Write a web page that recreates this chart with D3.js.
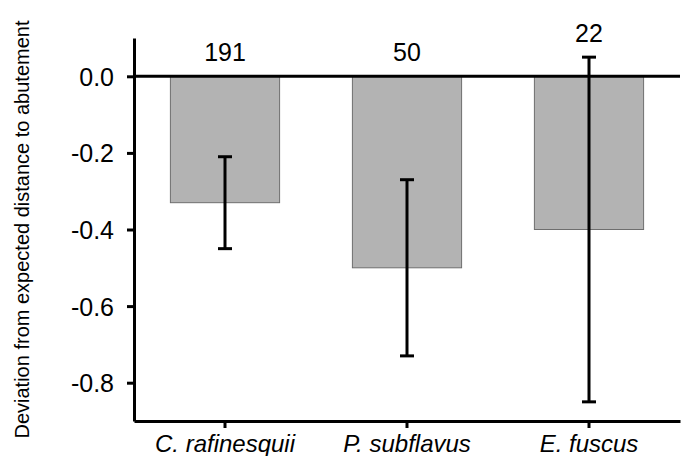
<!DOCTYPE html>
<html>
<head>
<meta charset="utf-8">
<script src="https://cdn.jsdelivr.net/npm/d3@7"></script>
<style>
  body { margin: 0; background: #fff; }
  svg { font-family: "Liberation Sans", Arial, sans-serif; }
</style>
</head>
<body>
<svg id="chart"></svg>
<script>
const species = ['C. rafinesquii', 'P. subflavus', 'E. fuscus'];
const means = [-0.33, -0.50, -0.40];
const errLow = [-0.45, -0.73, -0.85];
const errHigh = [-0.21, -0.27, 0.05];
const counts = ['191', '50', '22'];
const yTicks = [0.0, -0.2, -0.4, -0.6, -0.8];

const width = 682, height = 456;
const margin = { top: 38, left: 134, bottom: 35, right: 2 };
const iwidth = width - margin.left - margin.right;
const iheight = height - margin.top - margin.bottom;

const svg = d3.select('#chart').attr('width', width).attr('height', height);
const g = svg.append('g').attr('transform', `translate(${margin.left},${margin.top})`);

const y = d3.scaleLinear().domain([-0.9, 0.1]).range([iheight, 0]);
const x = d3.scaleBand().domain(species).range([0, iwidth])
  .paddingInner(0.4).paddingOuter(0.2);

// bars
g.selectAll('.bar')
  .data(species)
  .enter().append('rect')
  .attr('x', d => x(d))
  .attr('y', y(0))
  .attr('width', x.bandwidth())
  .attr('height', (d, i) => y(means[i]) - y(0))
  .style('fill', '#b3b3b3')
  .style('stroke', '#6e6e6e')
  .style('stroke-width', 1);

// error bars
const cap = 7;
species.forEach((s, i) => {
  const cx = x(s) + x.bandwidth() / 2;
  const eg = g.append('g').attr('stroke', '#000').attr('stroke-width', 3);
  eg.append('line').attr('x1', cx).attr('x2', cx).attr('y1', y(errLow[i])).attr('y2', y(errHigh[i]));
  eg.append('line').attr('x1', cx - cap).attr('x2', cx + cap).attr('y1', y(errLow[i])).attr('y2', y(errLow[i]));
  eg.append('line').attr('x1', cx - cap).attr('x2', cx + cap).attr('y1', y(errHigh[i])).attr('y2', y(errHigh[i]));
});

// zero line
g.append('line')
  .attr('x1', 0).attr('x2', iwidth)
  .attr('y1', y(0)).attr('y2', y(0))
  .attr('stroke', '#000').attr('stroke-width', 3);

// sample sizes, above the zero line or the error cap
g.selectAll('.count')
  .data(species)
  .enter().append('text')
  .attr('x', d => x(d) + x.bandwidth() / 2)
  .attr('y', (d, i) => y(Math.max(0, errHigh[i])) - 15)
  .attr('text-anchor', 'middle')
  .style('font-size', '25px')
  .text((d, i) => counts[i]);

// y axis
const yAxis = g.append('g')
  .call(d3.axisLeft(y).tickValues(yTicks).tickFormat(d3.format('.1f')).tickSize(7).tickSizeOuter(0));
yAxis.select('.domain').attr('stroke-width', 3);
yAxis.selectAll('.tick line').attr('stroke-width', 3);
yAxis.selectAll('.tick text').style('font-size', '25px').attr('x', -20).attr('dy', '0.36em').attr('fill', '#000')
  .text(d => d3.format('.1f')(d).replace('−', '-'));

// x axis
const xAxis = g.append('g')
  .attr('transform', `translate(0,${iheight})`)
  .call(d3.axisBottom(x).tickSize(7).tickSizeOuter(0));
xAxis.select('.domain').attr('stroke-width', 3);
xAxis.selectAll('.tick line').attr('stroke-width', 3);
xAxis.selectAll('.tick text').style('font-size', '24px').style('font-style', 'italic')
  .attr('y', 14).attr('fill', '#000');

// y label
svg.append('text')
  .attr('transform', `translate(29,${margin.top + iheight / 2}) rotate(-90)`)
  .attr('text-anchor', 'middle')
  .style('font-size', '20px')
  .text('Deviation from expected distance to abutement');
</script>
</body>
</html>
